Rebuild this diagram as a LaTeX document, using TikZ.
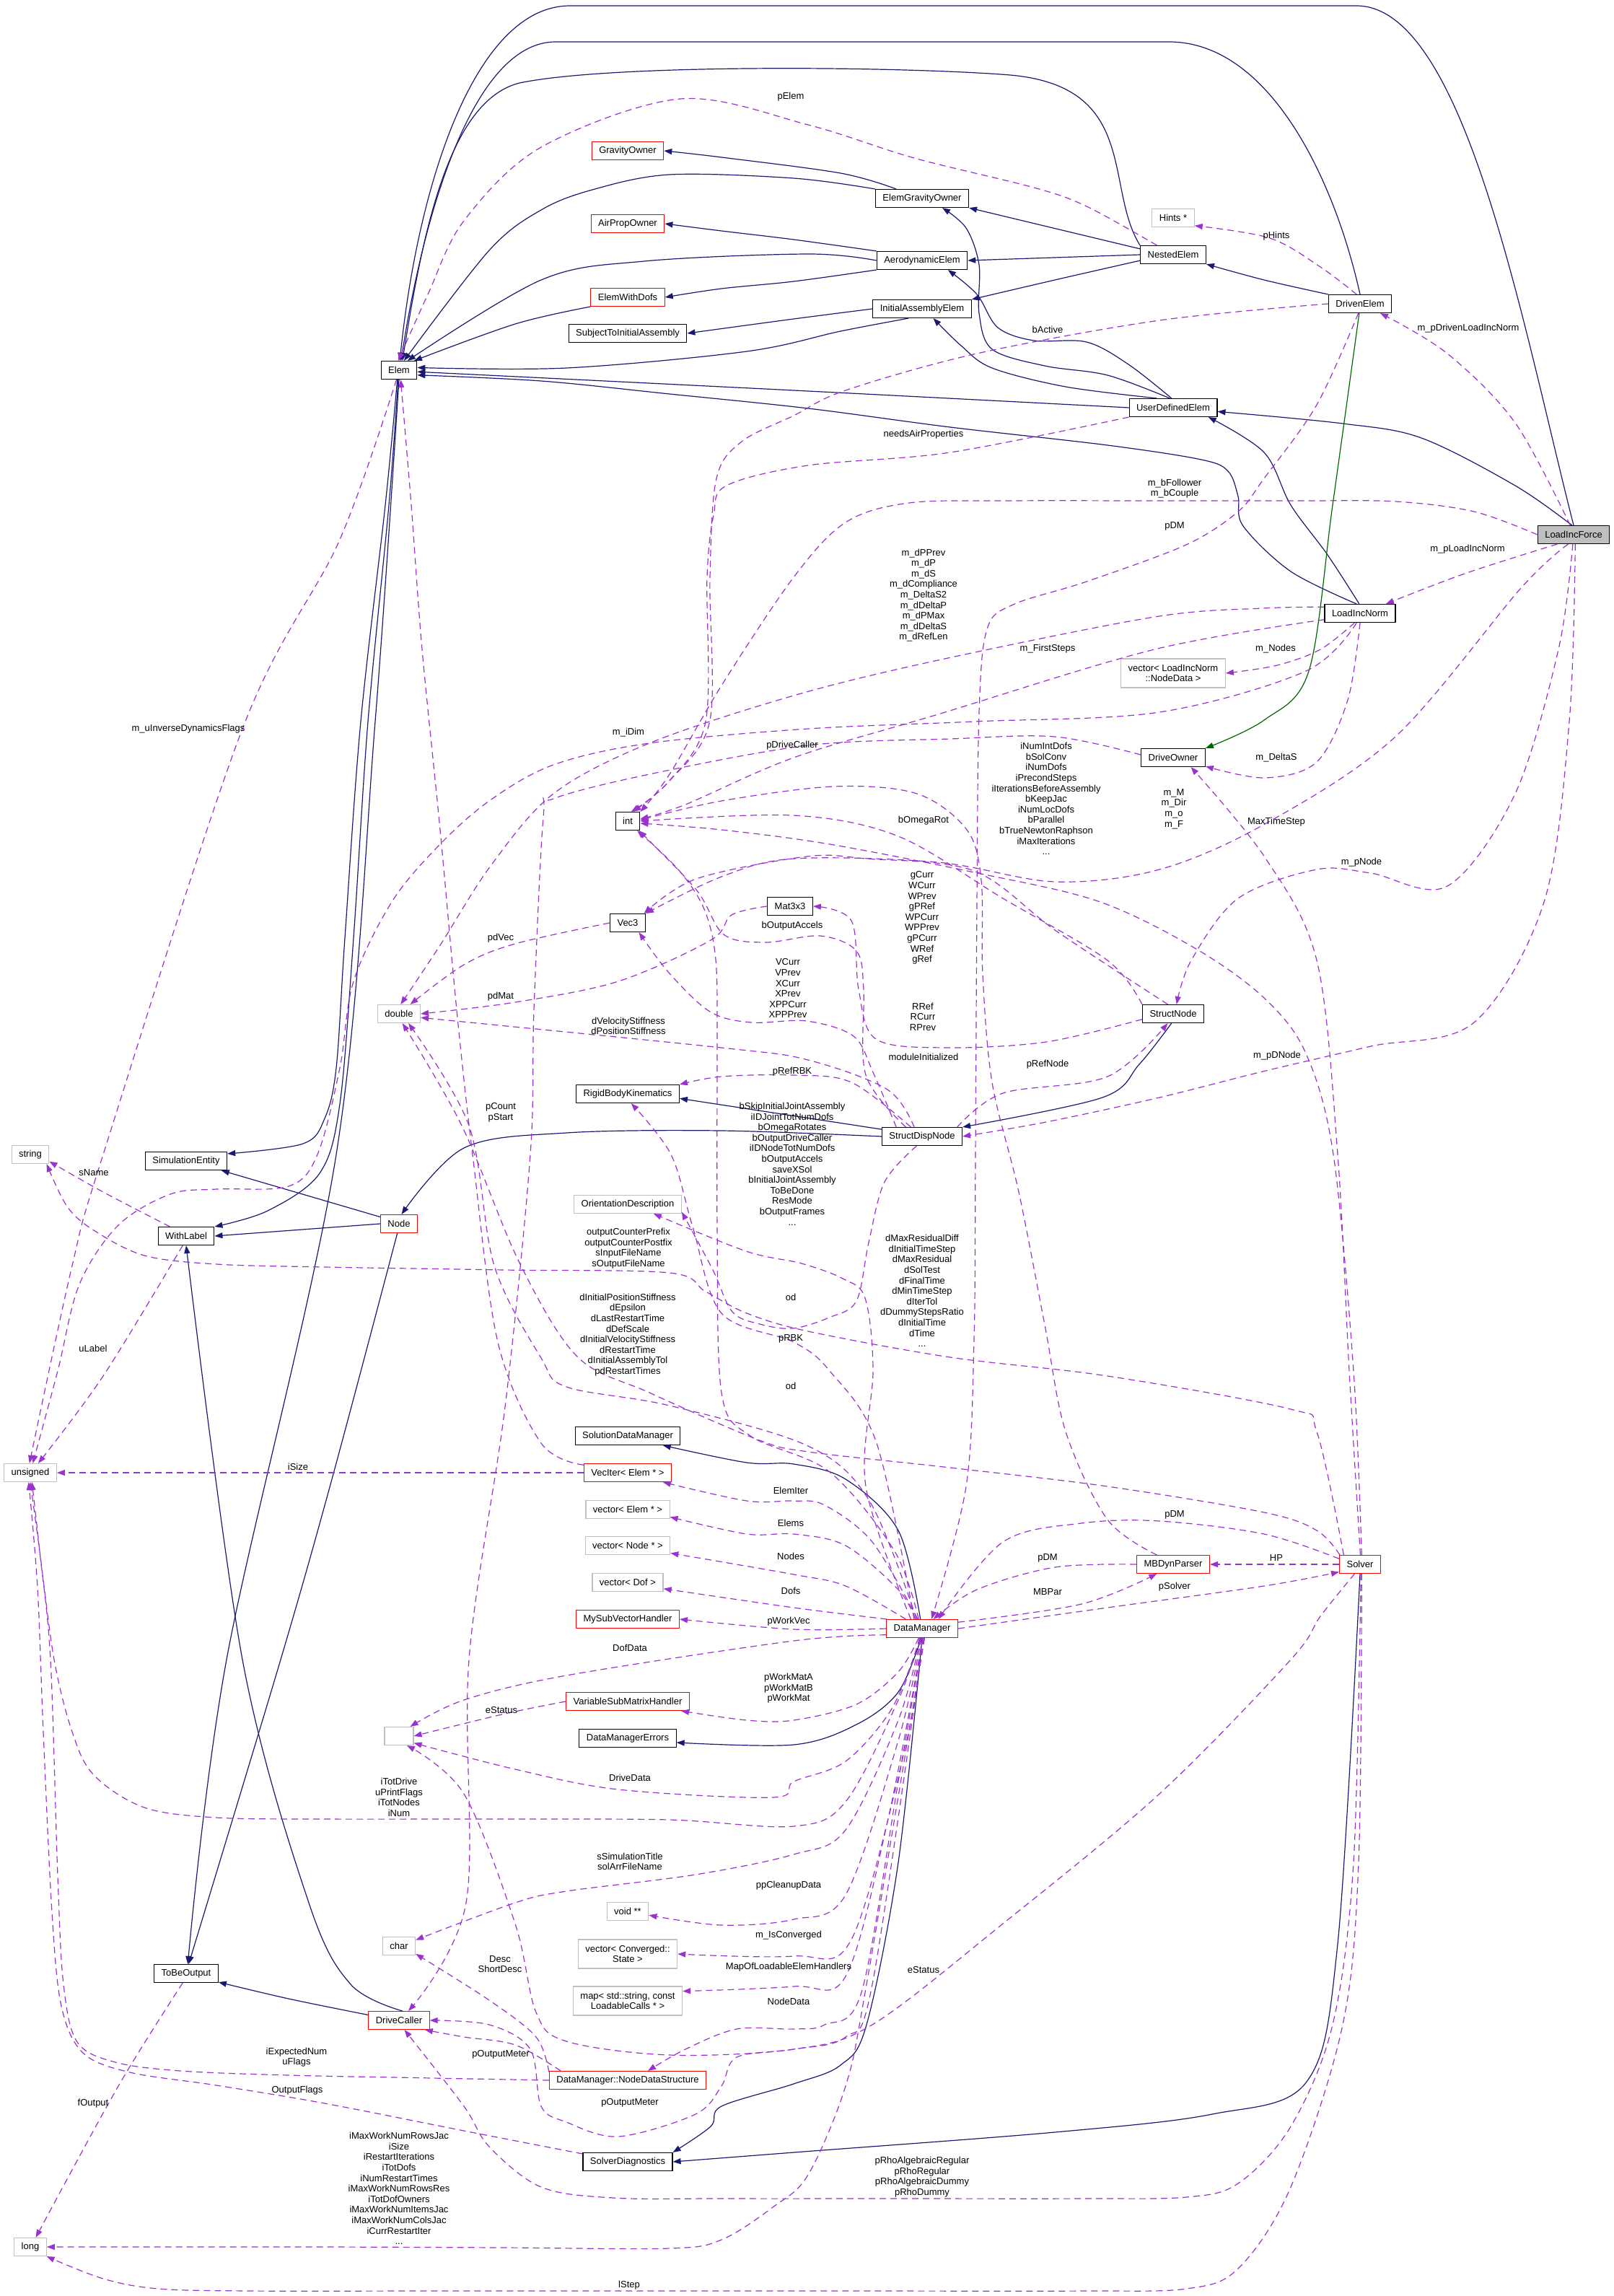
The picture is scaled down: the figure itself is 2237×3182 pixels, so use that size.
\documentclass[tikz,border=0pt]{standalone}
\usepackage{fontspec}
\setmainfont{Liberation Sans}
\usepackage{tikz}
\usetikzlibrary{arrows.meta}
\definecolor{dxnavy}{HTML}{191970}
\definecolor{dxpurple}{HTML}{9A32CD}
\definecolor{dxgreen}{HTML}{006400}
\definecolor{dxgray}{HTML}{BFBFBF}
\newcommand\dxfont{\fontsize{13}{14.6}\selectfont}

\begin{document}
\begin{tikzpicture}[x=1pt, y=-1pt,
  cls/.style={draw=black, line width=1.1pt, fill=white, minimum height=25pt, inner xsep=10pt, inner ysep=2pt, font=\dxfont},
  clsred/.style={cls, draw=red},
  clsgray/.style={cls, draw=dxgray},
  clsmain/.style={cls, fill=dxgray},
  tall/.style={align=center, minimum height=40pt},
  lbl/.style={font=\dxfont, align=center, inner sep=0pt},
  inh/.style={draw=dxnavy, line width=1.2pt, -{Triangle[length=11pt,width=8pt]}},
  inhg/.style={draw=dxgreen, line width=1.2pt, -{Triangle[length=11pt,width=8pt]}},
  usage/.style={draw=dxpurple, line width=1.2pt, dash pattern=on 9pt off 6pt, -{Triangle[length=11pt,width=8pt]}},
  every plot/.style={smooth, tension=.55},
]
\useasboundingbox (0,0) rectangle (2237,3182);

% Classes, column by column (x = 42, 258, 553, 870, 1278, 1626, 1885, 2181)
\node[cls] (Elem) at (553,513) {Elem};
\node[clsgray] (tString) at (42,1600) {string};
\node[clsgray] (tUnsigned) at (42,2041) {unsigned};
\node[clsgray] (tLong) at (42,3114) {long};
\node[cls] (SimEntity) at (258,1609) {SimulationEntity};
\node[cls] (WithLabel) at (258,1713) {WithLabel};
\node[cls] (ToBeOutput) at (258,2735) {ToBeOutput};
\node[clsgray] (tDouble) at (553,1405) {double};
\node[clsred] (Node) at (553,1696) {Node};
\node[clsgray, minimum width=40pt] (anon) at (553,2406) {};
\node[clsgray] (tChar) at (553,2697) {char};
\node[clsred] (DriveCaller) at (553,2800) {DriveCaller};

\node[clsred] (GravityOwner) at (870,209) {GravityOwner};
\node[clsred] (AirPropOwner) at (870,310) {AirPropOwner};
\node[clsred] (ElemWithDofs) at (870,412) {ElemWithDofs};
\node[cls] (SubjToIA) at (870,462) {SubjectToInitialAssembly};
\node[cls] (tInt) at (870,1138) {int};
\node[cls] (Vec3) at (870,1279) {Vec3};
\node[cls] (RBK) at (870,1516) {RigidBodyKinematics};
\node[clsgray] (OrientDesc) at (870,1669) {OrientationDescription};
\node[cls] (SolDataMgr) at (870,1990) {SolutionDataManager};
\node[clsred] (VecIter) at (870,2041) {VecIter< Elem * >};
\node[clsgray] (ElemVec) at (870,2092) {vector< Elem * >};
\node[clsgray] (NodeVec) at (870,2142) {vector< Node * >};
\node[clsgray] (DofVec) at (870,2193) {vector< Dof >};
\node[clsred] (MySubVH) at (870,2244) {MySubVectorHandler};
\node[clsred] (VarSubMH) at (870,2358) {VariableSubMatrixHandler};
\node[cls] (DMErrors) at (870,2409) {DataManagerErrors};
\node[clsgray] (voidPP) at (870,2649) {void **};
\node[clsgray, tall] (ConvVec) at (870,2708) {vector< Converged::\\State >};
\node[clsgray, tall] (LoadMap) at (870,2773) {map< std::string, const\\LoadableCalls * >};
\node[clsred] (NodeDataStruct) at (870,2883) {DataManager::NodeDataStructure};
\node[cls] (SolverDiag) at (870,2996) {SolverDiagnostics};

\node[cls] (Mat3x3) at (1095,1256) {Mat3x3};
\node[cls] (ElemGravityOwner) at (1278,275) {ElemGravityOwner};
\node[cls] (AeroElem) at (1278,361) {AerodynamicElem};
\node[cls] (InitAssElem) at (1278,428) {InitialAssemblyElem};
\node[cls] (StructDispNode) at (1278,1575) {StructDispNode};
\node[clsred] (DataManager) at (1278,2257) {DataManager};

\node[clsgray] (Hints) at (1626,302) {Hints *};
\node[cls] (NestedElem) at (1626,353) {NestedElem};
\node[cls] (UserDefElem) at (1626,565) {UserDefinedElem};
\node[clsgray, tall] (NodeDataVec) at (1626,933) {vector< LoadIncNorm\\::NodeData >};
\node[cls] (DriveOwner) at (1626,1050) {DriveOwner};
\node[cls] (StructNode) at (1626,1405) {StructNode};
\node[clsred] (MBDynParser) at (1626,2168) {MBDynParser};

\node[cls] (DrivenElem) at (1885,421) {DrivenElem};
\node[cls] (LoadIncNorm) at (1885,850) {LoadIncNorm};
\node[clsred] (Solver) at (1885,2168) {Solver};
\node[clsmain] (LoadIncForce) at (2181,741) {LoadIncForce};

% Inheritance
\draw[inh] (LoadIncForce.north) .. controls (2110,450) and (2030,8) .. (1880,8) -- (790,8) .. controls (660,8) and (580,250) .. (Elem.85);
\draw[inh] (DrivenElem.north) .. controls (1850,250) and (1760,58) .. (1620,58) -- (770,58) .. controls (660,58) and (590,280) .. (Elem.78);
\draw[inh] (NestedElem.north west) .. controls (1530,260) and (1580,120) .. (1400,104) .. controls (1250,92) and (850,88) .. (720,115) .. controls (620,140) and (585,330) .. (Elem.70);
\draw[inh] plot coordinates {(ElemGravityOwner.160) (1165,240) (1000,218) (GravityOwner.east)};
\draw[inh] plot coordinates {(ElemGravityOwner.north west) (1100,247) (928,242) (821,263) (750,291) (678,347) (Elem.62)};
\draw[inh] plot coordinates {(AeroElem.north west) (1100,332) (1000,320) (AirPropOwner.east)};
\draw[inh] plot coordinates {(AeroElem.west) (1120,352) (893,362) (750,388) (Elem.48)};
\draw[inh] plot coordinates {(AeroElem.south west) (1100,390) (1000,400) (ElemWithDofs.east)};
\draw[inh] plot coordinates {(ElemWithDofs.south west) (714,449) (Elem.32)};
\draw[inh] plot coordinates {(InitAssElem.west) (1100,442) (SubjToIA.east)};
\draw[inh] plot coordinates {(InitAssElem.-145) (1165,459) (1035,487) (785,510) (Elem.8)};
\draw[inh] (NestedElem.170) -- (ElemGravityOwner.south east);
\draw[inh] (NestedElem.west) -- (AeroElem.east);
\draw[inh] plot coordinates {(NestedElem.-170) (1462,388) (InitAssElem.north east)};
\draw[inh] plot coordinates {(DrivenElem.north west) (1752,388) (NestedElem.south east)};
\draw[inh] plot coordinates {(UserDefElem.west) (1100,541) (Elem.-5)};
\draw[inh] plot coordinates {(UserDefElem.110) (1535,520) (1448,507) (1375,484) (1357,434) (1357,367) (1339,316) (ElemGravityOwner.-25)};
\draw[inh] plot coordinates {(UserDefElem.100) (1564,505) (1506,474) (1433,472) (1383,454) (1354,408) (AeroElem.-20)};
\draw[inh] plot coordinates {(UserDefElem.150) (1477,536) (1375,510) (1332,479) (InitAssElem.-40)};
\draw[inh] plot coordinates {(LoadIncForce.100) (2100,673) (1970,607) (1861,587) (UserDefElem.-5)};
\draw[inh] plot coordinates {(LoadIncNorm.95) (1840,769) (1789,700) (1752,627) (UserDefElem.-15)};
\draw[inh] plot coordinates {(LoadIncNorm.110) (1789,792) (1723,729) (1716,688) (1702,653) (1665,637) (1535,617) (1317,592) (1120,566) (928,546) (750,528) (Elem.-15)};
\draw[inhg] plot coordinates {(DrivenElem.-95) (1847,700) (1814,930) (1752,998) (DriveOwner.north east)};
\draw[inh] plot coordinates {(Elem.-100) (534,700) (500,1000) (478,1300) (466,1480) (450,1550) (420,1585) (SimEntity.10)};
\draw[inh] plot coordinates {(Elem.-95) (539,700) (510,1000) (490,1300) (471,1530) (443,1626) (371,1678) (WithLabel.north east)};
\draw[inh] plot coordinates {(Elem.-90) (520,1000) (466,1600) (314,2300) (ToBeOutput.80)};
\draw[inh] (Node.160) -- (SimEntity.-15);
\draw[inh] (Node.west) -- (WithLabel.east);
\draw[inh] plot coordinates {(Node.-100) (460,2050) (389,2300) (ToBeOutput.75)};
\draw[inh] plot coordinates {(DriveCaller.70) (486,2750) (428,2637) (336,2300) (WithLabel.south)};
\draw[inh] plot coordinates {(DriveCaller.170) (400,2770) (ToBeOutput.-15)};
\draw[inh] plot coordinates {(StructNode.-100) (1579,1475) (1528,1521) (StructDispNode.north east)};
\draw[inh] plot coordinates {(StructDispNode.west) (1000,1567) (785,1570) (643,1591) (Node.75)};
\draw[inh] (StructDispNode.170) -- (RBK.-5);
\draw[inh] plot coordinates {(DataManager.100) (1245,2121) (1172,2050) (1100,2029) (1035,2027) (SolDataMgr.-15)};
\draw[inh] plot coordinates {(DataManager.-95) (1245,2345) (1187,2390) (1100,2418) (DMErrors.-5)};
\draw[inh] plot coordinates {(DataManager.-90) (1245,2581) (1201,2806) (1165,2862) (1100,2888) (1000,2919) (985,2947) (SolverDiag.north east)};
\draw[inh] plot coordinates {(Solver.-90) (1854,2694) (1811,2885) (1680,2930) (1462,2955) (1100,2983) (SolverDiag.east)};

% Members (upper half)
\draw[usage] plot coordinates {(NestedElem.150) (1506,286) (1433,260) (1267,219) (1120,173) (943,137) (750,204) (643,306) (593,408) (Elem.95)};
\draw[usage] plot coordinates {(DrivenElem.110) (1830,370) (1760,330) (Hints.-20)};
\draw[usage] plot coordinates {(LoadIncForce.110) (2100,586) (2006,490) (DrivenElem.-25)};
\draw[usage] plot coordinates {(LoadIncForce.-150) (2030,795) (LoadIncNorm.20)};
\draw[usage] plot coordinates {(LoadIncForce.west) (2043,709) (1934,695) (1800,694) (1600,694) (1400,694) (1260,697) (1172,724) (1100,800) (1000,950) (928,1073) (tInt.north east)};
\draw[usage] plot coordinates {(DrivenElem.west) (1607,444) (1354,490) (1172,541) (1100,576) (1028,612) (993,663) (984,800) (984,998) (930,1080) (tInt.60)};
\draw[usage] plot coordinates {(UserDefElem.south west) (1317,627) (1120,645) (1007,673) (989,714) (980,800) (978,1000) (925,1085) (tInt.70)};
\draw[usage] plot coordinates {(DrivenElem.-100) (1825,561) (1752,663) (1716,709) (1644,755) (1506,806) (1404,838) (1368,872) (1357,987) (1354,1250) (1352,1600) (1350,1856) (1339,2060) (DataManager.45)};
\draw[usage] plot coordinates {(LoadIncNorm.170) (1750,843) (1600,855) (1300,915) (1100,964) (900,1030) (767,1100) (680,1200) (610,1310) (tDouble.80)};
\draw[usage] plot coordinates {(LoadIncNorm.-170) (1600,900) (1300,990) (1100,1050) (950,1115) (tInt.10)};
\draw[usage] plot coordinates {(LoadIncNorm.-120) (1830,900) (1770,922) (NodeDataVec.east)};
\draw[usage] plot coordinates {(LoadIncNorm.-90) (1868,970) (1825,1056) (1753,1078) (DriveOwner.-15)};
\draw[usage] plot coordinates {(LoadIncNorm.-110) (1810,930) (1607,987) (1350,1000) (1120,1010) (900,1030) (767,1060) (678,1110) (607,1173) (543,1250) (490,1360) (471,1480) (440,1600) (400,1644) (300,1648) (236,1655) (164,1698) (110,1780) (80,1900) (tUnsigned.75)};
\draw[usage] plot coordinates {(Solver.88) (1870,1900) (1854,1600) (1825,1331) (1753,1188) (DriveOwner.-28)};
\draw[usage] plot coordinates {(DriveOwner.175) (1462,1021) (1317,1024) (1120,1033) (900,1073) (767,1107) (753,1133) (740,1400) (735,1600) (700,1950) (650,2300) (646,2637) (DriveCaller.45)};
\draw[usage] plot coordinates {(Solver.80) (1876,1900) (1848,1600) (1810,1460) (1752,1383) (1656,1314) (1522,1249) (1350,1209) (1150,1170) (1000,1150) (tInt.-10)};
\draw[usage] plot coordinates {(StructNode.north west) (1535,1331) (1390,1245) (1245,1159) (1100,1130) (tInt.east)};
\draw[usage] plot coordinates {(StructDispNode.150) (1200,1490) (1197,1371) (1187,1318) (1137,1297) (1061,1306) (1003,1295) (965,1233) (tInt.-40)};
\draw[usage] plot coordinates {(MBDynParser.150) (1535,2106) (1477,1984) (1448,1836) (1412,1652) (1375,1500) (1362,1350) (1360,1220) (1340,1150) (1271,1100) (1156,1090) (1000,1110) (tInt.5)};
\draw[usage] plot coordinates {(LoadIncForce.-120) (2108,815) (1934,1021) (1753,1142) (1607,1205) (1462,1222) (1300,1195) (1100,1190) (1000,1215) (Vec3.north east)};
\draw[usage] plot coordinates {(StructNode.120) (1465,1291) (1350,1207) (1200,1190) (1118,1187) (965,1218) (Vec3.30)};
\draw[usage] plot coordinates {(StructDispNode.160) (1210,1486) (1183,1436) (1118,1415) (1041,1417) (984,1402) (927,1348) (Vec3.-40)};
\draw[usage] plot coordinates {(Vec3.west) (714,1308) (643,1337) (tDouble.40)};
\draw[usage] plot coordinates {(Mat3x3.west) (1014,1268) (985,1303) (857,1360) (714,1389) (tDouble.east)};
\draw[usage] plot coordinates {(StructNode.-170) (1450,1444) (1310,1452) (1214,1440) (1190,1371) (1180,1276) (Mat3x3.east)};
\draw[usage] plot coordinates {(StructDispNode.130) (1230,1510) (1120,1469) (1000,1452) (tDouble.-10)};
\draw[usage] plot coordinates {(VecIter.170) (750,2000) (690,1860) (655,1600) (633,1400) (610,1150) (585,900) (570,700) (Elem.-80)};
\draw[usage] plot coordinates {(DataManager.120) (1205,2080) (1120,2004) (928,1948) (785,1922) (750,1882) (685,1754) (650,1560) (tDouble.-45)};
\draw[usage] plot coordinates {(Solver.155) (1825,2121) (1752,2096) (1535,2060) (1317,2034) (1120,2012) (1050,1995) (900,1930) (800,1880) (720,1750) (640,1560) (tDouble.-70)};
\draw[usage] plot coordinates {(DataManager.130) (1215,2000) (1150,1900) (1100,1860) (1000,1820) (960,1700) (930,1600) (RBK.-70)};
\draw[usage] plot coordinates {(StructDispNode.140) (1180,1500) (1100,1490) (1000,1492) (RBK.north east)};
\draw[usage] plot coordinates {(StructDispNode.15) (1390,1515) (1535,1492) (StructNode.-120)};
\draw[usage] plot coordinates {(LoadIncForce.-95) (2160,900) (2100,1100) (2006,1228) (1900,1210) (1825,1205) (1716,1245) (1651,1331) (StructNode.70)};
\draw[usage] plot coordinates {(LoadIncForce.-80) (2175,1000) (2140,1250) (2043,1417) (1900,1450) (1750,1485) (1607,1521) (1450,1555) (StructDispNode.east)};
\draw[usage] plot coordinates {(StructDispNode.-120) (1226,1638) (1204,1722) (1187,1803) (1149,1826) (1099,1841) (1053,1835) (1015,1818) (988,1760) (OrientDesc.-8)};
\draw[usage] plot coordinates {(DataManager.140) (1200,2060) (1210,1900) (1199,1799) (1168,1772) (1111,1751) (1034,1734) (OrientDesc.-20)};
\draw[usage] plot coordinates {(Solver.150) (1825,1984) (1789,1953) (1535,1907) (1317,1881) (1120,1845) (1035,1820) (978,1790) (928,1764) (700,1760) (450,1756) (300,1752) (200,1740) (130,1705) (93,1672) (tString.-30)};
\draw[usage] plot coordinates {(DataManager.110) (1240,2150) (1150,2040) (1040,1990) (1000,1930) (994,1700) (994,1450) (992,1330) (976,1260) (940,1205) (tInt.-45)};
\draw[usage] plot coordinates {(WithLabel.150) (143,1652) (tString.-20)};
\draw[usage] plot coordinates {(WithLabel.-110) (143,1907) (tUnsigned.50)};
\draw[usage] plot coordinates {(Elem.-105) (470,750) (336,1010) (143,1600) (100,1754) (tUnsigned.95)};
\draw[usage] (VecIter.west) -- (tUnsigned.east);

% Members (lower half)
\draw[usage] plot coordinates {(DataManager.115) (1209,2137) (1143,2086) (1100,2080) (1035,2080) (VecIter.-15)};
\draw[usage] plot coordinates {(DataManager.125) (1245,2203) (1172,2142) (1100,2126) (1035,2126) (ElemVec.-10)};
\draw[usage] plot coordinates {(DataManager.150) (1172,2198) (1100,2182) (NodeVec.-10)};
\draw[usage] plot coordinates {(DataManager.165) (1100,2228) (DofVec.-10)};
\draw[usage] plot coordinates {(DataManager.west) (1100,2258) (MySubVH.east)};
\draw[usage] plot coordinates {(DataManager.-170) (1100,2274) (785,2322) (643,2356) (anon.40)};
\draw[usage] plot coordinates {(DataManager.-110) (1245,2317) (1187,2362) (1100,2384) (1035,2384) (VarSubMH.-10)};
\draw[usage] plot coordinates {(DataManager.-100) (1236,2368) (1172,2441) (1100,2469) (1071,2491) (857,2480) (714,2452) (anon.-25)};
\draw[usage] plot coordinates {(DataManager.-105) (1245,2356) (1172,2497) (1100,2531) (928,2522) (700,2521) (450,2521) (300,2519) (200,2505) (130,2460) (100,2400) (75,2300) (55,2150) (tUnsigned.-90)};
\draw[usage] plot coordinates {(DataManager.-98) (1245,2384) (1172,2536) (1100,2570) (964,2598) (785,2621) (714,2637) (tChar.20)};
\draw[usage] plot coordinates {(DataManager.-93) (1245,2412) (1172,2626) (1100,2660) (1000,2668) (voidPP.-10)};
\draw[usage] plot coordinates {(DataManager.-88) (1255,2420) (1180,2688) (1100,2711) (ConvVec.east)};
\draw[usage] plot coordinates {(DataManager.-86) (1230,2525) (1172,2739) (1100,2753) (LoadMap.10)};
\draw[usage] plot coordinates {(DataManager.-84) (1245,2469) (1194,2761) (1143,2806) (1100,2812) (1021,2812) (950,2840) (NodeDataStruct.25)};
\draw[usage] plot coordinates {(DataManager.-80) (1209,2750) (1172,2823) (1100,2840) (1021,2851) (1000,2891) (964,2930) (857,2961) (785,2941) (750,2919) (735,2840) (678,2806) (DriveCaller.east)};
\draw[usage] plot coordinates {(NodeDataStruct.172) (714,2834) (643,2823) (DriveCaller.-20)};
\draw[usage] plot coordinates {(NodeDataStruct.174) (743,2823) (678,2772) (tChar.-25)};
\draw[usage] plot coordinates {(NodeDataStruct.west) (600,2880) (400,2876) (250,2870) (160,2858) (107,2830) (88,2750) (80,2600) (70,2300) (55,2150) (tUnsigned.-80)};
\draw[usage] plot coordinates {(SolverDiag.170) (643,2953) (450,2915) (300,2890) (180,2872) (115,2845) (85,2780) (72,2650) (60,2400) (52,2200) (tUnsigned.-100)};
\draw[usage] plot coordinates {(ToBeOutput.-110) (164,2891) (tLong.60)};
\draw[usage] plot coordinates {(DataManager.-75) (1201,2750) (1172,2891) (1120,3014) (1071,3059) (1000,3104) (928,3116) (700,3115) (450,3114) (tLong.east)};
\draw[usage] plot coordinates {(Solver.-80) (1883,2581) (1861,2806) (1789,3031) (1716,3144) (1644,3172) (1500,3175) (1200,3175) (900,3175) (600,3175) (350,3175) (220,3172) (143,3158) (tLong.-30)};
\draw[usage] plot coordinates {(Solver.-85) (1876,2581) (1847,2806) (1789,2947) (1716,3026) (1644,3045) (1500,3047) (1250,3047) (1000,3047) (850,3046) (750,3031) (678,2975) (643,2919) (DriveCaller.-60)};
\draw[usage] plot coordinates {(Solver.-120) (1830,2240) (1789,2300) (1607,2486) (1390,2666) (1209,2806) (1100,2840) (928,2848) (785,2829) (743,2789) (714,2666) (643,2486) (anon.-50)};
\draw[usage] plot coordinates {(VarSubMH.west) (700,2375) (anon.east)};
\draw[usage] plot coordinates {(DataManager.east) (1535,2228) (1752,2198) (Solver.-160)};
\draw[usage] plot coordinates {(DataManager.10) (1499,2223) (MBDynParser.-150)};
\draw[usage] plot coordinates {(MBDynParser.west) (1462,2172) (1354,2203) (DataManager.40)};
\draw[usage] plot coordinates {(Solver.165) (1752,2126) (1607,2108) (1499,2111) (1390,2137) (DataManager.30)};
\draw[usage] (Solver.west) -- (MBDynParser.east);

% Member labels
\node[lbl] (lpElem) at (1096,134) {pElem};
\node[lbl] (lpHints) at (1769,327) {pHints};
\node[lbl] (lbActive) at (1452,457) {bActive};
\node[lbl] (lmpDLIN) at (2035,455) {m\_pDrivenLoadIncNorm};
\node[lbl] (lneedsAir) at (1280,602) {needsAirProperties};
\node[lbl] (lFollower) at (1628,677) {m\_bFollower\\m\_bCouple};
\node[lbl] (lpDMa) at (1628,729) {pDM};
\node[lbl] (lmpLIN) at (2034,761) {m\_pLoadIncNorm};
\node[lbl] (ldPPrev) at (1280,825) {m\_dPPrev\\m\_dP\\m\_dS\\m\_dCompliance\\m\_DeltaS2\\m\_dDeltaP\\m\_dPMax\\m\_dDeltaS\\m\_dRefLen};
\node[lbl] (lFirstSteps) at (1452,899) {m\_FirstSteps};
\node[lbl] (lmNodes) at (1768,899) {m\_Nodes};
\node[lbl] (lmiDim) at (871,1015) {m\_iDim};
\node[lbl] (luInv) at (261,1010) {m\_uInverseDynamicsFlags};
\node[lbl] (lpDriveCaller) at (1098,1033) {pDriveCaller};
\node[lbl] (lDeltaS) at (1769,1050) {m\_DeltaS};
\node[lbl] (liNumIntDofs) at (1450,1107) {iNumIntDofs\\bSolConv\\iNumDofs\\iPrecondSteps\\iIterationsBeforeAssembly\\bKeepJac\\iNumLocDofs\\bParallel\\bTrueNewtonRaphson\\iMaxIterations\\...};
\node[lbl] (lmM) at (1627,1121) {m\_M\\m\_Dir\\m\_o\\m\_F};
\node[lbl] (lMaxTimeStep) at (1769,1139) {MaxTimeStep};
\node[lbl] (lbOmegaRot) at (1280,1137) {bOmegaRot};
\node[lbl] (lmpNode) at (1887,1195) {m\_pNode};
\node[lbl] (lgCurr) at (1278,1272) {gCurr\\WCurr\\WPrev\\gPRef\\WPCurr\\WPPrev\\gPCurr\\WRef\\gRef};
\node[lbl] (lbOutputAccels) at (1098,1283) {bOutputAccels};
\node[lbl] (lpdVec) at (694,1300) {pdVec};
\node[lbl] (lVCurr) at (1092,1370) {VCurr\\VPrev\\XCurr\\XPrev\\XPPCurr\\XPPPrev};
\node[lbl] (lpdMat) at (694,1381) {pdMat};
\node[lbl] (lRRef) at (1279,1409) {RRef\\RCurr\\RPrev};
\node[lbl] (ldVelStiff) at (871,1422) {dVelocityStiffness\\dPositionStiffness};
\node[lbl] (lmodInit) at (1280,1465) {moduleInitialized};
\node[lbl] (lpRefNode) at (1452,1475) {pRefNode};
\node[lbl] (lmpDNode) at (1770,1463) {m\_pDNode};
\node[lbl] (lpRefRBK) at (1098,1485) {pRefRBK};
\node[lbl] (lpCount) at (694,1542) {pCount\\pStart};
\node[lbl] (lbSkip) at (1098,1613) {bSkipInitialJointAssembly\\iIDJointTotNumDofs\\bOmegaRotates\\bOutputDriveCaller\\iIDNodeTotNumDofs\\bOutputAccels\\saveXSol\\bInitialJointAssembly\\ToBeDone\\ResMode\\bOutputFrames\\...};
\node[lbl] (lsName) at (130,1625) {sName};
\node[lbl] (loutCounter) at (871,1730) {outputCounterPrefix\\outputCounterPostfix\\sInputFileName\\sOutputFileName};
\node[lbl] (ldMaxRes) at (1278,1789) {dMaxResidualDiff\\dInitialTimeStep\\dMaxResidual\\dSolTest\\dFinalTime\\dMinTimeStep\\dIterTol\\dDummyStepsRatio\\dInitialTime\\dTime\\...};
\node[lbl] (lod1) at (1096,1798) {od};
\node[lbl] (ldInitPos) at (870,1850) {dInitialPositionStiffness\\dEpsilon\\dLastRestartTime\\dDefScale\\dInitialVelocityStiffness\\dRestartTime\\dInitialAssemblyTol\\pdRestartTimes};
\node[lbl] (lpRBK) at (1096,1855) {pRBK};
\node[lbl] (luLabel) at (129,1869) {uLabel};
\node[lbl] (lod2) at (1096,1921) {od};
\node[lbl] (liSize) at (413,2033) {iSize};
\node[lbl] (lElemIter) at (1096,2066) {ElemIter};
\node[lbl] (lpDMb) at (1628,2099) {pDM};
\node[lbl] (lElems) at (1096,2111) {Elems};
\node[lbl] (lNodes) at (1096,2157) {Nodes};
\node[lbl] (lpDMc) at (1452,2159) {pDM};
\node[lbl] (lHP) at (1769,2159) {HP};
\node[lbl] (lpSolver) at (1628,2199) {pSolver};
\node[lbl] (lDofs) at (1096,2205) {Dofs};
\node[lbl] (lMBPar) at (1452,2206) {MBPar};
\node[lbl] (lpWorkVec) at (1093,2247) {pWorkVec};
\node[lbl] (lDofData) at (873,2284) {DofData};
\node[lbl] (lpWorkMat) at (1093,2340) {pWorkMatA\\pWorkMatB\\pWorkMat};
\node[lbl] (leStatusA) at (695,2370) {eStatus};
\node[lbl] (lDriveData) at (873,2464) {DriveData};
\node[lbl] (liTotDrive) at (553,2491) {iTotDrive\\uPrintFlags\\iTotNodes\\iNum};
\node[lbl] (lsSimTitle) at (873,2580) {sSimulationTitle\\solArrFileName};
\node[lbl] (lppCleanup) at (1093,2613) {ppCleanupData};
\node[lbl] (lmIsConv) at (1093,2682) {m\_IsConverged};
\node[lbl] (lDesc) at (693,2722) {Desc\\ShortDesc};
\node[lbl] (lMapLoad) at (1093,2726) {MapOfLoadableElemHandlers};
\node[lbl] (leStatusB) at (1280,2730) {eStatus};
\node[lbl] (lNodeData) at (1093,2774) {NodeData};
\node[lbl] (liExpected) at (411,2851) {iExpectedNum\\uFlags};
\node[lbl] (lpOutMeterA) at (694,2847) {pOutputMeter};
\node[lbl] (lOutputFlags) at (412,2897) {OutputFlags};
\node[lbl] (lpOutMeterB) at (873,2914) {pOutputMeter};
\node[lbl] (lfOutput) at (129,2915) {fOutput};
\node[lbl] (liMaxWork) at (553,3033) {iMaxWorkNumRowsJac\\iSize\\iRestartIterations\\iTotDofs\\iNumRestartTimes\\iMaxWorkNumRowsRes\\iTotDofOwners\\iMaxWorkNumItemsJac\\iMaxWorkNumColsJac\\iCurrRestartIter\\...};
\node[lbl] (lpRho) at (1278,3017) {pRhoAlgebraicRegular\\pRhoRegular\\pRhoAlgebraicDummy\\pRhoDummy};
\node[lbl] (llStep) at (872,3167) {lStep};
\end{tikzpicture}
\end{document}
